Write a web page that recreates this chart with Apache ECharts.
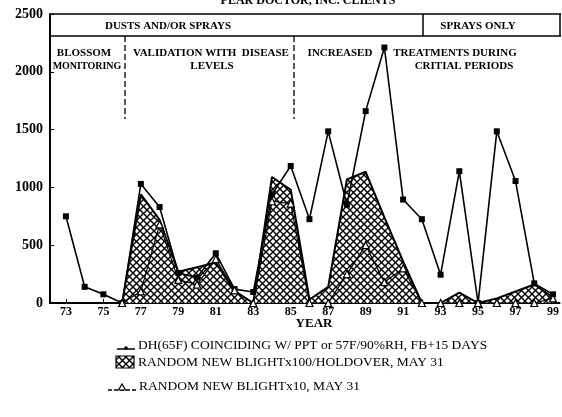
<!DOCTYPE html>
<html><head><meta charset="utf-8">
<script src="https://cdn.jsdelivr.net/npm/echarts@6/dist/echarts.min.js"></script>
<style>html,body{margin:0;padding:0;background:#fff}#c{width:562px;height:417px}</style>
</head><body><div id="c"></div>
<script>
const title = 'PEAR DOCTOR, INC. CLIENTS';
const xTickLabels = [73,75,77,79,81,83,85,87,89,91,93,95,97,99];
const yearsDH = [73,74,75,76,77,78,79,80,81,82,83,84,85,86,87,88,89,90,91,92,93,94,95,96,97,98,99];
const valuesDH = [750,140,75,0,1030,830,260,220,430,120,95,940,1185,725,1485,850,1660,2210,895,725,245,1140,0,1485,1055,170,75];
const yearsHold = [76,77,78,79,80,81,82,83,84,85,86,87,88,89,90,91,92,93,94,95,96,97,98,99];
const valuesHold = [0,940,720,270,310,350,100,0,1090,980,30,140,1070,1135,740,360,0,0,90,0,40,100,160,50];
const yearsNB = [76,77,78,79,80,81,82,83,84,85,86,87,88,89,90,91,92,93,94,95,96,97,98,99];
const valuesNB = [0,100,680,200,160,380,110,0,880,860,0,0,250,500,180,300,0,0,0,0,0,0,0,40];
const legendNames = ['DH(65F) COINCIDING W/ PPT or 57F/90%RH, FB+15 DAYS','RANDOM NEW BLIGHTx100/HOLDOVER, MAY 31','RANDOM NEW BLIGHTx10, MAY 31'];

function makeHatch(){
  const n=7;
  const c=document.createElement('canvas'); c.width=n; c.height=n;
  const g=c.getContext('2d'); g.fillStyle='#fff'; g.fillRect(0,0,n,n);
  g.strokeStyle='#000'; g.lineWidth=1.4; g.beginPath();
  g.moveTo(-1,-1); g.lineTo(n+1,n+1); g.moveTo(-1,n+1); g.lineTo(n+1,-1); g.stroke();
  return c;
}
const hatch = makeHatch();
const F = '"Liberation Serif","DejaVu Serif",serif';
const pair = (xs,vs)=>xs.map((x,i)=>[x,vs[i]]);

const chart = echarts.init(document.getElementById('c'), null, {renderer:'canvas'});
const T = (text,x,y,opt)=>Object.assign({type:'text',x:x,y:y,style:Object.assign({text:text,fill:'#000',font:'bold 11px '+F,textAlign:'center',textVerticalAlign:'middle'},opt||{})});
const L = (x1,y1,x2,y2,w,dash)=>({type:'line',shape:{x1:x1,y1:y1,x2:x2,y2:y2},style:{stroke:'#000',lineWidth:w||1.5,lineDash:dash||null}});

chart.setOption({
  animation:false,
  grid:{left:50,right:1,top:14,bottom:114},
  xAxis:{type:'value',min:72.15,max:99.35,
    axisLine:{lineStyle:{color:'#000',width:2}},
    axisTick:{inside:true,length:4,customValues:xTickLabels,lineStyle:{color:'#000'}},
    axisLabel:{customValues:xTickLabels,color:'#000',fontFamily:F,fontWeight:'bold',fontSize:12,margin:3},
    splitLine:{show:false}},
  yAxis:{type:'value',min:0,max:2500,interval:500,
    axisLine:{show:true,lineStyle:{color:'#000',width:2}},
    axisTick:{show:true,inside:true,length:4,lineStyle:{color:'#000'}},
    axisLabel:{color:'#000',fontFamily:F,fontWeight:'bold',fontSize:14,margin:7,formatter:v=>String(v)},
    splitLine:{show:false}},
  series:[
    {name:legendNames[1],type:'line',data:pair(yearsHold,valuesHold),showSymbol:false,
      lineStyle:{color:'#000',width:2},areaStyle:{color:{image:hatch,repeat:'repeat'},opacity:1},z:2},
    {name:legendNames[0],type:'line',data:pair(yearsDH,valuesDH),symbol:'rect',symbolSize:6,
      itemStyle:{color:'#000'},lineStyle:{color:'#000',width:1.6},z:3},
    {name:legendNames[2],type:'line',data:pair(yearsNB,valuesNB),symbol:'triangle',symbolSize:7,
      itemStyle:{color:'#fff',borderColor:'#000',borderWidth:1.2},lineStyle:{color:'#000',width:1.2},z:4}
  ],
  graphic:[
    T(title,308,1,{font:'bold 12px '+F}),
    L(50,14,561,14,1.5), L(50,36,561,36,1.5), L(423,14,423,36,1.5), L(560,14,560,36,1.5),
    L(125,36,125,119,1.3,[6,3]), L(294,36,294,119,1.3,[6,3]),
    T('DUSTS AND/OR SPRAYS',168,26),
    T('SPRAYS ONLY',478,26),
    T('BLOSSOM',84,53), T('MONITORING',87,66,{font:'bold 10px '+F}),
    T('VALIDATION WITH  DISEASE',211,53), T('LEVELS',212,66),
    T('INCREASED',340,53),
    T('TREATMENTS DURING',455,53), T('CRITIAL PERIODS',464,66),
    T('YEAR',314,324,{font:'bold 13px '+F}),
    L(117,349,135,349,1.5), {type:'circle',shape:{cx:126,cy:348,r:1.8},style:{fill:'#000'}},
    T(legendNames[0],138,345,{font:'13.5px '+F,textAlign:'left'}),
    {type:'rect',shape:{x:116,y:356,width:18,height:12},style:{fill:{image:hatch,repeat:'repeat'},stroke:'#000',lineWidth:1.2}},
    T(legendNames[1],138,362,{font:'13.5px '+F,textAlign:'left'}),
    L(108,390,136,390,1.5,[4,2]),
    {type:'polygon',shape:{points:[[122,384],[118.5,390],[125.5,390]]},style:{fill:'#fff',stroke:'#000',lineWidth:1.2}},
    T(legendNames[2],139,386,{font:'13.5px '+F,textAlign:'left'})
  ]
});
</script></body></html>
